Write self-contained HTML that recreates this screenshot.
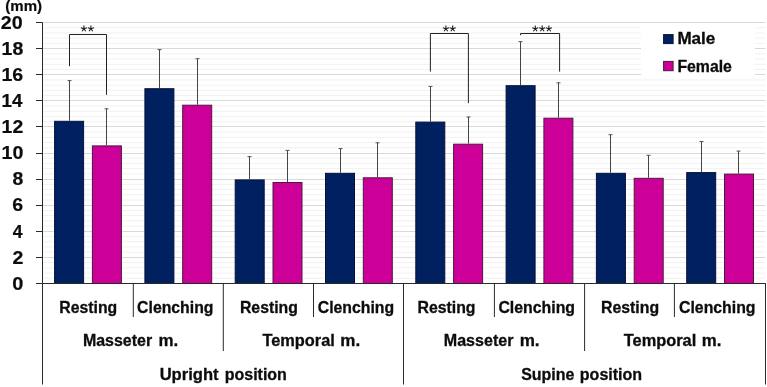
<!DOCTYPE html>
<html><head><meta charset="utf-8"><title>Chart</title>
<style>html,body{margin:0;padding:0;background:#fff;}body{width:767px;height:387px;position:relative;overflow:hidden;font-family:"Liberation Sans",sans-serif;}</style>
</head><body>
<svg width="767" height="387" viewBox="0 0 767 387" style="display:block;position:absolute;left:0;top:0;will-change:transform;font-family:'Liberation Sans',sans-serif;">
<rect x="0" y="0" width="767" height="387" fill="#fff"/>
<line x1="42.5" x2="765.5" y1="278.28" y2="278.28" stroke="#f1f1f1" stroke-width="1"/>
<line x1="42.5" x2="765.5" y1="273.06" y2="273.06" stroke="#f1f1f1" stroke-width="1"/>
<line x1="42.5" x2="765.5" y1="267.84" y2="267.84" stroke="#f1f1f1" stroke-width="1"/>
<line x1="42.5" x2="765.5" y1="262.62" y2="262.62" stroke="#f1f1f1" stroke-width="1"/>
<line x1="42.5" x2="765.5" y1="257.50" y2="257.50" stroke="#d9d9d9" stroke-width="1"/>
<line x1="42.5" x2="765.5" y1="252.18" y2="252.18" stroke="#f1f1f1" stroke-width="1"/>
<line x1="42.5" x2="765.5" y1="246.96" y2="246.96" stroke="#f1f1f1" stroke-width="1"/>
<line x1="42.5" x2="765.5" y1="241.74" y2="241.74" stroke="#f1f1f1" stroke-width="1"/>
<line x1="42.5" x2="765.5" y1="236.52" y2="236.52" stroke="#f1f1f1" stroke-width="1"/>
<line x1="42.5" x2="765.5" y1="231.50" y2="231.50" stroke="#d9d9d9" stroke-width="1"/>
<line x1="42.5" x2="765.5" y1="226.08" y2="226.08" stroke="#f1f1f1" stroke-width="1"/>
<line x1="42.5" x2="765.5" y1="220.86" y2="220.86" stroke="#f1f1f1" stroke-width="1"/>
<line x1="42.5" x2="765.5" y1="215.64" y2="215.64" stroke="#f1f1f1" stroke-width="1"/>
<line x1="42.5" x2="765.5" y1="210.42" y2="210.42" stroke="#f1f1f1" stroke-width="1"/>
<line x1="42.5" x2="765.5" y1="205.50" y2="205.50" stroke="#d9d9d9" stroke-width="1"/>
<line x1="42.5" x2="765.5" y1="199.98" y2="199.98" stroke="#f1f1f1" stroke-width="1"/>
<line x1="42.5" x2="765.5" y1="194.76" y2="194.76" stroke="#f1f1f1" stroke-width="1"/>
<line x1="42.5" x2="765.5" y1="189.54" y2="189.54" stroke="#f1f1f1" stroke-width="1"/>
<line x1="42.5" x2="765.5" y1="184.32" y2="184.32" stroke="#f1f1f1" stroke-width="1"/>
<line x1="42.5" x2="765.5" y1="179.50" y2="179.50" stroke="#d9d9d9" stroke-width="1"/>
<line x1="42.5" x2="765.5" y1="173.88" y2="173.88" stroke="#f1f1f1" stroke-width="1"/>
<line x1="42.5" x2="765.5" y1="168.66" y2="168.66" stroke="#f1f1f1" stroke-width="1"/>
<line x1="42.5" x2="765.5" y1="163.44" y2="163.44" stroke="#f1f1f1" stroke-width="1"/>
<line x1="42.5" x2="765.5" y1="158.22" y2="158.22" stroke="#f1f1f1" stroke-width="1"/>
<line x1="42.5" x2="765.5" y1="153.50" y2="153.50" stroke="#d9d9d9" stroke-width="1"/>
<line x1="42.5" x2="765.5" y1="147.78" y2="147.78" stroke="#f1f1f1" stroke-width="1"/>
<line x1="42.5" x2="765.5" y1="142.56" y2="142.56" stroke="#f1f1f1" stroke-width="1"/>
<line x1="42.5" x2="765.5" y1="137.34" y2="137.34" stroke="#f1f1f1" stroke-width="1"/>
<line x1="42.5" x2="765.5" y1="132.12" y2="132.12" stroke="#f1f1f1" stroke-width="1"/>
<line x1="42.5" x2="765.5" y1="126.50" y2="126.50" stroke="#d9d9d9" stroke-width="1"/>
<line x1="42.5" x2="765.5" y1="121.68" y2="121.68" stroke="#f1f1f1" stroke-width="1"/>
<line x1="42.5" x2="765.5" y1="116.46" y2="116.46" stroke="#f1f1f1" stroke-width="1"/>
<line x1="42.5" x2="765.5" y1="111.24" y2="111.24" stroke="#f1f1f1" stroke-width="1"/>
<line x1="42.5" x2="765.5" y1="106.02" y2="106.02" stroke="#f1f1f1" stroke-width="1"/>
<line x1="42.5" x2="765.5" y1="100.50" y2="100.50" stroke="#d9d9d9" stroke-width="1"/>
<line x1="42.5" x2="765.5" y1="95.58" y2="95.58" stroke="#f1f1f1" stroke-width="1"/>
<line x1="42.5" x2="765.5" y1="90.36" y2="90.36" stroke="#f1f1f1" stroke-width="1"/>
<line x1="42.5" x2="765.5" y1="85.14" y2="85.14" stroke="#f1f1f1" stroke-width="1"/>
<line x1="42.5" x2="765.5" y1="79.92" y2="79.92" stroke="#f1f1f1" stroke-width="1"/>
<line x1="42.5" x2="765.5" y1="74.50" y2="74.50" stroke="#d9d9d9" stroke-width="1"/>
<line x1="42.5" x2="765.5" y1="69.48" y2="69.48" stroke="#f1f1f1" stroke-width="1"/>
<line x1="42.5" x2="765.5" y1="64.26" y2="64.26" stroke="#f1f1f1" stroke-width="1"/>
<line x1="42.5" x2="765.5" y1="59.04" y2="59.04" stroke="#f1f1f1" stroke-width="1"/>
<line x1="42.5" x2="765.5" y1="53.82" y2="53.82" stroke="#f1f1f1" stroke-width="1"/>
<line x1="42.5" x2="765.5" y1="48.50" y2="48.50" stroke="#d9d9d9" stroke-width="1"/>
<line x1="42.5" x2="765.5" y1="43.38" y2="43.38" stroke="#f1f1f1" stroke-width="1"/>
<line x1="42.5" x2="765.5" y1="38.16" y2="38.16" stroke="#f1f1f1" stroke-width="1"/>
<line x1="42.5" x2="765.5" y1="32.94" y2="32.94" stroke="#f1f1f1" stroke-width="1"/>
<line x1="42.5" x2="765.5" y1="27.72" y2="27.72" stroke="#f1f1f1" stroke-width="1"/>
<line x1="42.5" x2="765.5" y1="22.50" y2="22.50" stroke="#d9d9d9" stroke-width="1"/>
<rect x="54.60" y="121.30" width="29.0" height="162.20" fill="#002060" stroke="#06123a" stroke-width="1"/>
<rect x="92.40" y="145.90" width="29.0" height="137.60" fill="#cc0099" stroke="#4f1640" stroke-width="1"/>
<line x1="69.50" x2="69.50" y1="80.40" y2="120.80" stroke="#444" stroke-width="1"/>
<line x1="67.50" x2="71.50" y1="80.60" y2="80.60" stroke="#555" stroke-width="1"/>
<line x1="106.50" x2="106.50" y1="108.60" y2="145.40" stroke="#444" stroke-width="1"/>
<line x1="104.50" x2="108.50" y1="108.80" y2="108.80" stroke="#555" stroke-width="1"/>
<rect x="144.90" y="88.70" width="29.0" height="194.80" fill="#002060" stroke="#06123a" stroke-width="1"/>
<rect x="182.70" y="105.20" width="29.0" height="178.30" fill="#cc0099" stroke="#4f1640" stroke-width="1"/>
<line x1="159.50" x2="159.50" y1="49.40" y2="88.20" stroke="#444" stroke-width="1"/>
<line x1="157.50" x2="161.50" y1="49.60" y2="49.60" stroke="#555" stroke-width="1"/>
<line x1="197.50" x2="197.50" y1="58.50" y2="104.70" stroke="#444" stroke-width="1"/>
<line x1="195.50" x2="199.50" y1="58.70" y2="58.70" stroke="#555" stroke-width="1"/>
<rect x="235.20" y="179.90" width="29.0" height="103.60" fill="#002060" stroke="#06123a" stroke-width="1"/>
<rect x="273.00" y="182.50" width="29.0" height="101.00" fill="#cc0099" stroke="#4f1640" stroke-width="1"/>
<line x1="249.50" x2="249.50" y1="156.40" y2="179.40" stroke="#444" stroke-width="1"/>
<line x1="247.50" x2="251.50" y1="156.60" y2="156.60" stroke="#555" stroke-width="1"/>
<line x1="287.50" x2="287.50" y1="150.20" y2="182.00" stroke="#444" stroke-width="1"/>
<line x1="285.50" x2="289.50" y1="150.40" y2="150.40" stroke="#555" stroke-width="1"/>
<rect x="325.50" y="173.30" width="29.0" height="110.20" fill="#002060" stroke="#06123a" stroke-width="1"/>
<rect x="363.30" y="177.80" width="29.0" height="105.70" fill="#cc0099" stroke="#4f1640" stroke-width="1"/>
<line x1="340.50" x2="340.50" y1="148.30" y2="172.80" stroke="#444" stroke-width="1"/>
<line x1="338.50" x2="342.50" y1="148.50" y2="148.50" stroke="#555" stroke-width="1"/>
<line x1="377.50" x2="377.50" y1="142.60" y2="177.30" stroke="#444" stroke-width="1"/>
<line x1="375.50" x2="379.50" y1="142.80" y2="142.80" stroke="#555" stroke-width="1"/>
<rect x="415.80" y="122.10" width="29.0" height="161.40" fill="#002060" stroke="#06123a" stroke-width="1"/>
<rect x="453.60" y="144.20" width="29.0" height="139.30" fill="#cc0099" stroke="#4f1640" stroke-width="1"/>
<line x1="430.50" x2="430.50" y1="86.20" y2="121.60" stroke="#444" stroke-width="1"/>
<line x1="428.50" x2="432.50" y1="86.40" y2="86.40" stroke="#555" stroke-width="1"/>
<line x1="468.50" x2="468.50" y1="116.80" y2="143.70" stroke="#444" stroke-width="1"/>
<line x1="466.50" x2="470.50" y1="117.00" y2="117.00" stroke="#555" stroke-width="1"/>
<rect x="506.10" y="85.70" width="29.0" height="197.80" fill="#002060" stroke="#06123a" stroke-width="1"/>
<rect x="543.90" y="118.20" width="29.0" height="165.30" fill="#cc0099" stroke="#4f1640" stroke-width="1"/>
<line x1="520.50" x2="520.50" y1="41.40" y2="85.20" stroke="#444" stroke-width="1"/>
<line x1="518.50" x2="522.50" y1="41.60" y2="41.60" stroke="#555" stroke-width="1"/>
<line x1="558.50" x2="558.50" y1="82.60" y2="117.70" stroke="#444" stroke-width="1"/>
<line x1="556.50" x2="560.50" y1="82.80" y2="82.80" stroke="#555" stroke-width="1"/>
<rect x="596.40" y="173.30" width="29.0" height="110.20" fill="#002060" stroke="#06123a" stroke-width="1"/>
<rect x="634.20" y="178.30" width="29.0" height="105.20" fill="#cc0099" stroke="#4f1640" stroke-width="1"/>
<line x1="610.50" x2="610.50" y1="134.50" y2="172.80" stroke="#444" stroke-width="1"/>
<line x1="608.50" x2="612.50" y1="134.70" y2="134.70" stroke="#555" stroke-width="1"/>
<line x1="648.50" x2="648.50" y1="155.10" y2="177.80" stroke="#444" stroke-width="1"/>
<line x1="646.50" x2="650.50" y1="155.30" y2="155.30" stroke="#555" stroke-width="1"/>
<rect x="686.70" y="172.60" width="29.0" height="110.90" fill="#002060" stroke="#06123a" stroke-width="1"/>
<rect x="724.50" y="174.10" width="29.0" height="109.40" fill="#cc0099" stroke="#4f1640" stroke-width="1"/>
<line x1="701.50" x2="701.50" y1="141.30" y2="172.10" stroke="#444" stroke-width="1"/>
<line x1="699.50" x2="703.50" y1="141.50" y2="141.50" stroke="#555" stroke-width="1"/>
<line x1="738.50" x2="738.50" y1="150.90" y2="173.60" stroke="#444" stroke-width="1"/>
<line x1="736.50" x2="740.50" y1="151.10" y2="151.10" stroke="#555" stroke-width="1"/>
<line x1="42.5" x2="42.5" y1="22.50" y2="384.5" stroke="#2a2a2a" stroke-width="1"/>
<line x1="36.0" x2="766.0" y1="283.5" y2="283.5" stroke="#2a2a2a" stroke-width="1"/>
<line x1="36.0" x2="42.5" y1="257.50" y2="257.50" stroke="#2a2a2a" stroke-width="1"/>
<line x1="36.0" x2="42.5" y1="231.50" y2="231.50" stroke="#2a2a2a" stroke-width="1"/>
<line x1="36.0" x2="42.5" y1="205.50" y2="205.50" stroke="#2a2a2a" stroke-width="1"/>
<line x1="36.0" x2="42.5" y1="179.50" y2="179.50" stroke="#2a2a2a" stroke-width="1"/>
<line x1="36.0" x2="42.5" y1="153.50" y2="153.50" stroke="#2a2a2a" stroke-width="1"/>
<line x1="36.0" x2="42.5" y1="126.50" y2="126.50" stroke="#2a2a2a" stroke-width="1"/>
<line x1="36.0" x2="42.5" y1="100.50" y2="100.50" stroke="#2a2a2a" stroke-width="1"/>
<line x1="36.0" x2="42.5" y1="74.50" y2="74.50" stroke="#2a2a2a" stroke-width="1"/>
<line x1="36.0" x2="42.5" y1="48.50" y2="48.50" stroke="#2a2a2a" stroke-width="1"/>
<line x1="36.0" x2="42.5" y1="22.50" y2="22.50" stroke="#2a2a2a" stroke-width="1"/>
<line x1="133.30" x2="133.30" y1="283.5" y2="317" stroke="#2a2a2a" stroke-width="1"/>
<line x1="223.30" x2="223.30" y1="283.5" y2="351" stroke="#2a2a2a" stroke-width="1"/>
<line x1="313.50" x2="313.50" y1="283.5" y2="317" stroke="#2a2a2a" stroke-width="1"/>
<line x1="403.50" x2="403.50" y1="283.5" y2="384.5" stroke="#2a2a2a" stroke-width="1"/>
<line x1="494.40" x2="494.40" y1="283.5" y2="317" stroke="#2a2a2a" stroke-width="1"/>
<line x1="584.60" x2="584.60" y1="283.5" y2="351" stroke="#2a2a2a" stroke-width="1"/>
<line x1="674.40" x2="674.40" y1="283.5" y2="317" stroke="#2a2a2a" stroke-width="1"/>
<line x1="765.50" x2="765.50" y1="283.5" y2="384.5" stroke="#2a2a2a" stroke-width="1"/>
<rect x="641" y="26" width="114" height="52" fill="#fff"/>
<rect x="663.6" y="34.6" width="9.5" height="9" fill="#002060" stroke="#06123a"/>
<rect x="663.6" y="61.4" width="9.5" height="9.3" fill="#cc0099" stroke="#4f1640"/>
<polyline points="69.5,66.2 69.5,34.5 106.5,34.5 106.5,94.8" fill="none" stroke="#222" stroke-width="1"/>
<path d="M83.90,28.70L83.90,25.50M83.90,28.70L86.94,27.71M83.90,28.70L85.78,31.29M83.90,28.70L82.02,31.29M83.90,28.70L80.86,27.71" stroke="#1a1a1a" stroke-width="1.1" fill="none" stroke-linecap="butt"/>
<circle cx="83.90" cy="28.70" r="0.7" fill="#1a1a1a"/>
<path d="M90.90,28.70L90.90,25.50M90.90,28.70L93.94,27.71M90.90,28.70L92.78,31.29M90.90,28.70L89.02,31.29M90.90,28.70L87.86,27.71" stroke="#1a1a1a" stroke-width="1.1" fill="none" stroke-linecap="butt"/>
<circle cx="90.90" cy="28.70" r="0.7" fill="#1a1a1a"/>
<polyline points="430.4,71.6 430.4,33.5 468.4,33.5 468.4,103.2" fill="none" stroke="#222" stroke-width="1"/>
<path d="M445.90,28.70L445.90,25.50M445.90,28.70L448.94,27.71M445.90,28.70L447.78,31.29M445.90,28.70L444.02,31.29M445.90,28.70L442.86,27.71" stroke="#1a1a1a" stroke-width="1.1" fill="none" stroke-linecap="butt"/>
<circle cx="445.90" cy="28.70" r="0.7" fill="#1a1a1a"/>
<path d="M452.70,28.70L452.70,25.50M452.70,28.70L455.74,27.71M452.70,28.70L454.58,31.29M452.70,28.70L450.82,31.29M452.70,28.70L449.66,27.71" stroke="#1a1a1a" stroke-width="1.1" fill="none" stroke-linecap="butt"/>
<circle cx="452.70" cy="28.70" r="0.7" fill="#1a1a1a"/>
<polyline points="520.5,35.2 520.5,33.5 559.6,33.5 559.6,71.6" fill="none" stroke="#222" stroke-width="1"/>
<path d="M535.30,28.70L535.30,25.50M535.30,28.70L538.34,27.71M535.30,28.70L537.18,31.29M535.30,28.70L533.42,31.29M535.30,28.70L532.26,27.71" stroke="#1a1a1a" stroke-width="1.1" fill="none" stroke-linecap="butt"/>
<circle cx="535.30" cy="28.70" r="0.7" fill="#1a1a1a"/>
<path d="M542.20,28.70L542.20,25.50M542.20,28.70L545.24,27.71M542.20,28.70L544.08,31.29M542.20,28.70L540.32,31.29M542.20,28.70L539.16,27.71" stroke="#1a1a1a" stroke-width="1.1" fill="none" stroke-linecap="butt"/>
<circle cx="542.20" cy="28.70" r="0.7" fill="#1a1a1a"/>
<path d="M548.90,28.70L548.90,25.50M548.90,28.70L551.94,27.71M548.90,28.70L550.78,31.29M548.90,28.70L547.02,31.29M548.90,28.70L545.86,27.71" stroke="#1a1a1a" stroke-width="1.1" fill="none" stroke-linecap="butt"/>
<circle cx="548.90" cy="28.70" r="0.7" fill="#1a1a1a"/>
<text x="59.35" y="312.80" font-size="16.5" font-weight="bold" fill="#0c0c0c" stroke="#0c0c0c" stroke-width="0.3" textLength="57.93" lengthAdjust="spacingAndGlyphs">Resting</text>
<text x="239.95" y="312.80" font-size="16.5" font-weight="bold" fill="#0c0c0c" stroke="#0c0c0c" stroke-width="0.3" textLength="57.99" lengthAdjust="spacingAndGlyphs">Resting</text>
<text x="417.46" y="312.80" font-size="16.5" font-weight="bold" fill="#0c0c0c" stroke="#0c0c0c" stroke-width="0.3" textLength="58.03" lengthAdjust="spacingAndGlyphs">Resting</text>
<text x="600.97" y="312.80" font-size="16.5" font-weight="bold" fill="#0c0c0c" stroke="#0c0c0c" stroke-width="0.3" textLength="58.12" lengthAdjust="spacingAndGlyphs">Resting</text>
<text x="137.11" y="312.80" font-size="16.5" font-weight="bold" fill="#0c0c0c" stroke="#0c0c0c" stroke-width="0.3" textLength="76.36" lengthAdjust="spacingAndGlyphs">Clenching</text>
<text x="317.74" y="312.80" font-size="16.5" font-weight="bold" fill="#0c0c0c" stroke="#0c0c0c" stroke-width="0.3" textLength="76.38" lengthAdjust="spacingAndGlyphs">Clenching</text>
<text x="498.38" y="312.80" font-size="16.5" font-weight="bold" fill="#0c0c0c" stroke="#0c0c0c" stroke-width="0.3" textLength="76.69" lengthAdjust="spacingAndGlyphs">Clenching</text>
<text x="679.01" y="312.80" font-size="16.5" font-weight="bold" fill="#0c0c0c" stroke="#0c0c0c" stroke-width="0.3" textLength="76.54" lengthAdjust="spacingAndGlyphs">Clenching</text>
<text x="82.92" y="346.20" font-size="16.5" font-weight="bold" fill="#0c0c0c" stroke="#0c0c0c" stroke-width="0.3" textLength="69.25" lengthAdjust="spacingAndGlyphs">Masseter</text>
<text x="158.45" y="346.20" font-size="16.5" font-weight="bold" fill="#0c0c0c" stroke="#0c0c0c" stroke-width="0.3" textLength="19.80" lengthAdjust="spacingAndGlyphs">m.</text>
<text x="443.78" y="346.20" font-size="16.5" font-weight="bold" fill="#0c0c0c" stroke="#0c0c0c" stroke-width="0.3" textLength="69.67" lengthAdjust="spacingAndGlyphs">Masseter</text>
<text x="519.66" y="346.20" font-size="16.5" font-weight="bold" fill="#0c0c0c" stroke="#0c0c0c" stroke-width="0.3" textLength="19.94" lengthAdjust="spacingAndGlyphs">m.</text>
<text x="262.44" y="346.20" font-size="16.5" font-weight="bold" fill="#0c0c0c" stroke="#0c0c0c" stroke-width="0.3" textLength="72.36" lengthAdjust="spacingAndGlyphs">Temporal</text>
<text x="340.35" y="346.20" font-size="16.5" font-weight="bold" fill="#0c0c0c" stroke="#0c0c0c" stroke-width="0.3" textLength="19.89" lengthAdjust="spacingAndGlyphs">m.</text>
<text x="623.73" y="346.20" font-size="16.5" font-weight="bold" fill="#0c0c0c" stroke="#0c0c0c" stroke-width="0.3" textLength="72.58" lengthAdjust="spacingAndGlyphs">Temporal</text>
<text x="701.75" y="346.20" font-size="16.5" font-weight="bold" fill="#0c0c0c" stroke="#0c0c0c" stroke-width="0.3" textLength="19.60" lengthAdjust="spacingAndGlyphs">m.</text>
<text x="159.66" y="380.20" font-size="16.5" font-weight="bold" fill="#0c0c0c" stroke="#0c0c0c" stroke-width="0.3" textLength="58.90" lengthAdjust="spacingAndGlyphs">Upright</text>
<text x="224.71" y="380.20" font-size="16.5" font-weight="bold" fill="#0c0c0c" stroke="#0c0c0c" stroke-width="0.3" textLength="62.19" lengthAdjust="spacingAndGlyphs">position</text>
<text x="521.18" y="380.20" font-size="16.5" font-weight="bold" fill="#0c0c0c" stroke="#0c0c0c" stroke-width="0.3" textLength="53.22" lengthAdjust="spacingAndGlyphs">Supine</text>
<text x="579.83" y="380.20" font-size="16.5" font-weight="bold" fill="#0c0c0c" stroke="#0c0c0c" stroke-width="0.3" textLength="62.32" lengthAdjust="spacingAndGlyphs">position</text>
<text x="677.42" y="43.55" font-size="15.7" font-weight="bold" fill="#0c0c0c" stroke="#0c0c0c" stroke-width="0.3" textLength="37.91" lengthAdjust="spacingAndGlyphs">Male</text>
<text x="677.42" y="71.50" font-size="15.7" font-weight="bold" fill="#0c0c0c" stroke="#0c0c0c" stroke-width="0.3" textLength="54.47" lengthAdjust="spacingAndGlyphs">Female</text>
<text x="5.36" y="11.20" font-size="13.8" font-weight="bold" fill="#0c0c0c" stroke="#0c0c0c" stroke-width="0.2" textLength="36.74" lengthAdjust="spacingAndGlyphs">(mm)</text>
<text x="12.21" y="289.70" font-size="18.4" font-weight="bold" fill="#0c0c0c" stroke="#0c0c0c" stroke-width="0.2" textLength="11.10" lengthAdjust="spacingAndGlyphs">0</text>
<text x="12.49" y="263.60" font-size="18.4" font-weight="bold" fill="#0c0c0c" stroke="#0c0c0c" stroke-width="0.2" textLength="10.87" lengthAdjust="spacingAndGlyphs">2</text>
<text x="12.77" y="237.50" font-size="18.4" font-weight="bold" fill="#0c0c0c" stroke="#0c0c0c" stroke-width="0.2" textLength="9.78" lengthAdjust="spacingAndGlyphs">4</text>
<text x="12.39" y="211.40" font-size="18.4" font-weight="bold" fill="#0c0c0c" stroke="#0c0c0c" stroke-width="0.2" textLength="10.87" lengthAdjust="spacingAndGlyphs">6</text>
<text x="12.41" y="185.30" font-size="18.4" font-weight="bold" fill="#0c0c0c" stroke="#0c0c0c" stroke-width="0.2" textLength="10.77" lengthAdjust="spacingAndGlyphs">8</text>
<text x="1.50" y="159.20" font-size="18.4" font-weight="bold" fill="#0c0c0c" stroke="#0c0c0c" stroke-width="0.2" textLength="21.87" lengthAdjust="spacingAndGlyphs">10</text>
<text x="1.63" y="133.10" font-size="18.4" font-weight="bold" fill="#0c0c0c" stroke="#0c0c0c" stroke-width="0.2" textLength="21.60" lengthAdjust="spacingAndGlyphs">12</text>
<text x="1.57" y="107.00" font-size="18.4" font-weight="bold" fill="#0c0c0c" stroke="#0c0c0c" stroke-width="0.2" textLength="20.88" lengthAdjust="spacingAndGlyphs">14</text>
<text x="1.43" y="80.90" font-size="18.4" font-weight="bold" fill="#0c0c0c" stroke="#0c0c0c" stroke-width="0.2" textLength="21.77" lengthAdjust="spacingAndGlyphs">16</text>
<text x="1.61" y="54.80" font-size="18.4" font-weight="bold" fill="#0c0c0c" stroke="#0c0c0c" stroke-width="0.2" textLength="21.65" lengthAdjust="spacingAndGlyphs">18</text>
<text x="0.76" y="29.30" font-size="18.4" font-weight="bold" fill="#0c0c0c" stroke="#0c0c0c" stroke-width="0.2" textLength="21.90" lengthAdjust="spacingAndGlyphs">20</text>
</svg>
</body></html>
